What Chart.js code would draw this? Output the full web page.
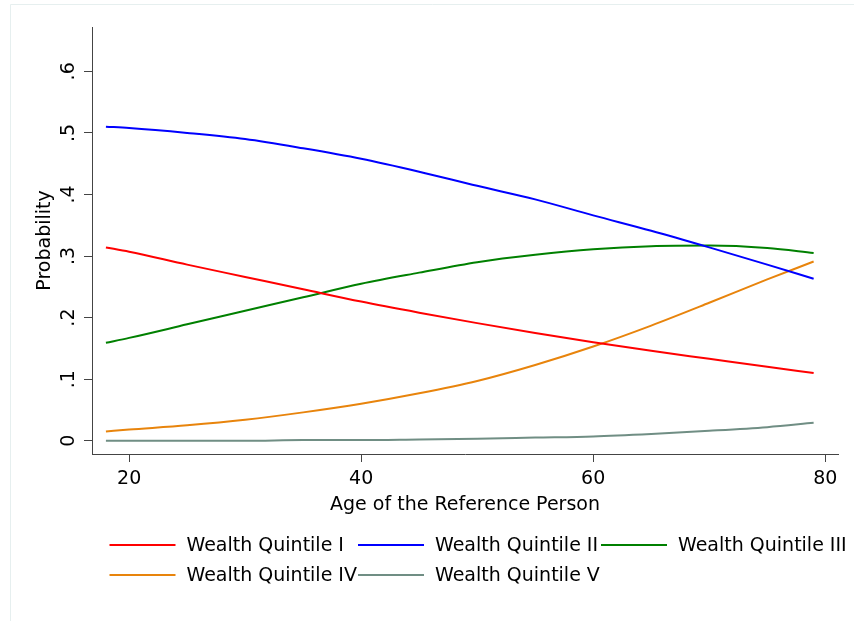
<!DOCTYPE html>
<html>
<head>
<meta charset="utf-8">
<script src="https://cdn.jsdelivr.net/npm/chart.js@4"></script>
<style>
html,body{margin:0;padding:0;background:#fff;}
#wrap{position:relative;width:854px;height:621px;}
canvas{display:block;}
</style>
</head>
<body>
<div id="wrap"><canvas id="c"></canvas></div>
<script>
// ---- data ----
const ages        = [18, 20, 25, 30, 35, 40, 45, 50, 55, 60, 65, 70, 75, 79];
const quintileI   = [0.314, 0.307, 0.286, 0.266, 0.246, 0.226, 0.208, 0.191, 0.175, 0.160, 0.146, 0.133, 0.120, 0.110];
const quintileII  = [0.510, 0.508, 0.500, 0.490, 0.475, 0.458, 0.437, 0.414, 0.392, 0.366, 0.341, 0.314, 0.286, 0.263];
const quintileIII = [0.159, 0.167, 0.189, 0.211, 0.233, 0.255, 0.273, 0.290, 0.302, 0.311, 0.316, 0.317, 0.313, 0.305];
const quintileIV  = [0.015, 0.018, 0.025, 0.034, 0.046, 0.060, 0.077, 0.097, 0.123, 0.153, 0.187, 0.224, 0.262, 0.291];
const quintileV   = [0.000, 0.000, 0.000, 0.000, 0.001, 0.001, 0.002, 0.003, 0.005, 0.007, 0.011, 0.016, 0.022, 0.029];
const seriesLabels = ['Wealth Quintile I', 'Wealth Quintile II', 'Wealth Quintile III', 'Wealth Quintile IV', 'Wealth Quintile V'];
const xTickValues = [20, 40, 60, 80];
const yTickValues = [0, 0.1, 0.2, 0.3, 0.4, 0.5, 0.6];
const yTickLabels = ['0', '.1', '.2', '.3', '.4', '.5', '.6'];
const xTitle = 'Age of the Reference Person';
const yTitle = 'Probability';

// ---- styles ----
const seriesColors = ['#ff0000', '#0000ff', '#008000', '#e8840c', '#708e84'];
const allSeries = [quintileI, quintileII, quintileIII, quintileIV, quintileV];
const FONT = '"DejaVu Sans", "Liberation Sans", Arial, sans-serif';
const AXIS = '#444';

Chart.defaults.font.family = FONT;
Chart.defaults.font.size = 19;
Chart.defaults.color = '#000';

const datasets = allSeries.map((vals, i) => ({
  label: seriesLabels[i],
  data: ages.map((a, j) => ({x: a, y: vals[j]})),
  borderColor: seriesColors[i],
  backgroundColor: seriesColors[i],
  borderWidth: 2,
  pointRadius: 0,
  fill: false,
  cubicInterpolationMode: 'monotone'
}));

const framePlugin = {
  id: 'frame',
  beforeDraw(chart) {
    const ctx = chart.ctx;
    ctx.save();
    ctx.strokeStyle = '#e6efef';
    ctx.lineWidth = 1;
    ctx.beginPath();
    ctx.moveTo(10.5, 621); ctx.lineTo(10.5, 4.5); ctx.lineTo(854, 4.5);
    ctx.stroke();
    ctx.restore();
  }
};

const legendPlugin = {
  id: 'gridLegend',
  afterDraw(chart) {
    const ctx = chart.ctx;
    const cols = [109.5, 358, 601];
    const rows = [545, 575];
    ctx.save();
    ctx.font = '19px ' + FONT;
    ctx.textBaseline = 'alphabetic';
    ctx.textAlign = 'left';
    chart.data.datasets.forEach((ds, i) => {
      const x0 = cols[i % 3];
      const y = rows[Math.floor(i / 3)];
      ctx.strokeStyle = ds.borderColor;
      ctx.lineWidth = 2;
      ctx.beginPath();
      ctx.moveTo(x0, y); ctx.lineTo(x0 + 66, y);
      ctx.stroke();
      ctx.fillStyle = '#000';
      ctx.fillText(ds.label, x0 + 77, y + 6);
    });
    ctx.restore();
  }
};

new Chart(document.getElementById('c'), {
  type: 'line',
  data: { datasets },
  options: {
    responsive: true,
    maintainAspectRatio: false,
    animation: false,
    layout: { padding: { left: 10, right: 16, top: 27, bottom: 105 } },
    plugins: { legend: { display: false }, tooltip: { enabled: false } },
    scales: {
      x: {
        type: 'linear',
        min: 16.8,
        max: 81.1,
        afterBuildTicks: s => { s.ticks = xTickValues.map(v => ({value: v})); },
        afterFit: s => { s.height = 62; },
        ticks: { padding: 6, minRotation: 0, maxRotation: 0, color: '#000', callback: v => String(v) },
        grid: { drawOnChartArea: false, drawTicks: true, tickLength: 8, tickColor: AXIS, tickWidth: 1 },
        border: { display: true, color: AXIS, width: 1 },
        title: { display: true, text: xTitle, color: '#000', padding: { top: 0, bottom: 0 } }
      },
      y: {
        type: 'linear',
        min: -0.0216,
        max: 0.672,
        afterBuildTicks: s => { s.ticks = yTickValues.map(v => ({value: v})); },
        afterFit: s => { s.width = 82; },
        ticks: { padding: 6, minRotation: 90, maxRotation: 90, crossAlign: 'center', color: '#000',
                 callback: (v, i) => yTickLabels[i] },
        grid: { drawOnChartArea: false, drawTicks: true, tickLength: 8, tickColor: AXIS, tickWidth: 1 },
        border: { display: true, color: AXIS, width: 1 },
        title: { display: true, text: yTitle, color: '#000', padding: { top: 24, bottom: 0 } }
      }
    }
  },
  plugins: [framePlugin, legendPlugin]
});
</script>
</body>
</html>
